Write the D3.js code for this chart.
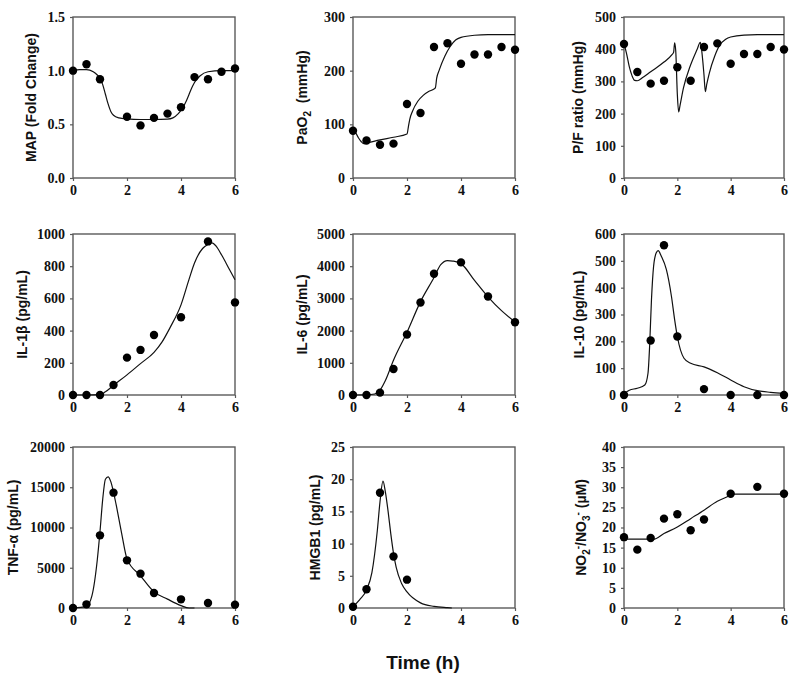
<!DOCTYPE html>
<html><head><meta charset="utf-8">
<script src="https://cdn.jsdelivr.net/npm/d3@7/dist/d3.min.js"></script>
<style>body{margin:0;background:#fff}text{white-space:pre}</style>
</head><body><svg id="c" width="800" height="688" xmlns="http://www.w3.org/2000/svg"></svg>
<script>
const xTicks = [0, 2, 4, 6];

// Panel 1: MAP
const mapObsT = [0, 0.5, 1, 2, 2.5, 3, 3.5, 4, 4.5, 5, 5.5, 6];
const mapObsV = [1.0, 1.06, 0.92, 0.57, 0.49, 0.56, 0.60, 0.66, 0.94, 0.92, 0.99, 1.02];
const mapFitT = [0, 0.25, 0.5, 0.75, 0.9, 1.0, 1.1, 1.2, 1.3, 1.4, 1.5, 1.7, 2.0, 2.5, 3.0, 3.5, 3.7, 3.9, 4.0, 4.1, 4.2, 4.3, 4.4, 4.5, 4.7, 5.0, 5.5, 6.0];
const mapFitV = [1.00, 1.01, 1.01, 0.99, 0.96, 0.93, 0.87, 0.78, 0.69, 0.62, 0.585, 0.56, 0.55, 0.545, 0.545, 0.548, 0.56, 0.60, 0.63, 0.67, 0.72, 0.78, 0.84, 0.89, 0.95, 0.99, 1.0, 1.0];
const mapTicks = [0, 0.5, 1.0, 1.5];

// Panel 2: PaO2
const paoObsT = [0, 0.5, 1, 1.5, 2, 2.5, 3, 3.5, 4, 4.5, 5, 5.5, 6];
const paoObsV = [88, 70, 62, 64, 138, 121, 244, 251, 213, 230, 230, 244, 239];
const paoFitT = [0, 0.1, 0.2, 0.3, 0.4, 0.5, 1.0, 1.5, 2.0, 2.05, 2.1, 2.2, 2.4, 2.6, 2.8, 3.0, 3.05, 3.1, 3.2, 3.4, 3.6, 3.8, 4.0, 4.5, 5.0, 6.0];
const paoFitV = [88, 84, 75, 68, 64, 65, 71, 76, 82, 95, 109, 124, 143, 154, 161, 166, 168, 186, 202, 227, 245, 257, 262, 266, 267, 267];
const paoTicks = [0, 100, 200, 300];

// Panel 3: P/F ratio
const pfObsT = [0, 0.5, 1, 1.5, 2, 2.5, 3, 3.5, 4, 4.5, 5, 5.5, 6];
const pfObsV = [416, 329, 293, 302, 344, 302, 407, 418, 355, 385, 385, 407, 399];
const pfFitT = [0, 0.1, 0.2, 0.3, 0.4, 0.5, 0.7, 1.0, 1.5, 1.8, 1.86, 1.9, 1.94, 2.0, 2.05, 2.1, 2.23, 2.48, 2.74, 2.86, 2.9, 3.0, 3.05, 3.1, 3.2, 3.4, 3.6, 3.8, 4.0, 4.5, 5.0, 6.0];
const pfFitV = [418, 385, 345, 318, 303, 302, 312, 330, 360, 383, 390, 420, 395, 260, 205, 225, 280, 347, 399, 421, 405, 320, 268, 290, 326, 378, 414, 430, 438, 444, 445, 445];
const pfTicks = [0, 100, 200, 300, 400, 500];

// Panel 4: IL-1β
const il1ObsT = [0, 0.5, 1, 1.5, 2, 2.5, 3, 4, 5, 6];
const il1ObsV = [0, 0, 0, 62, 232, 280, 373, 483, 954, 575];
const il1FitT = [0, 0.5, 1.0, 1.2, 1.5, 2.0, 2.5, 3.0, 3.3, 3.6, 4.0, 4.3, 4.5, 4.8, 5.0, 5.15, 5.3, 5.5, 5.8, 6.0];
const il1FitV = [0, 0, 2, 20, 60, 125, 195, 265, 330, 420, 560, 720, 820, 910, 935, 945, 925, 871, 778, 716];
const il1Ticks = [0, 200, 400, 600, 800, 1000];

// Panel 5: IL-6
const il6ObsT = [0, 0.5, 1, 1.5, 2, 2.5, 3, 4, 5, 6];
const il6ObsV = [0, 0, 73, 809, 1878, 2873, 3766, 4118, 3060, 2261];
const il6FitT = [0, 0.5, 0.8, 1.0, 1.2, 1.5, 2.0, 2.5, 3.0, 3.25, 3.5, 3.7, 4.0, 4.5, 5.0, 5.5, 6.0];
const il6FitV = [0, 5, 30, 150, 450, 1080, 1950, 2900, 3650, 4050, 4175, 4160, 4080, 3560, 3050, 2620, 2270];
const il6Ticks = [0, 1000, 2000, 3000, 4000, 5000];

// Panel 6: IL-10
const il10ObsT = [0, 1, 1.5, 2, 3, 4, 5, 6];
const il10ObsV = [0, 203, 558, 218, 22, 0, 0, 0];
const il10FitT = [0, 0.2, 0.5, 0.78, 0.9, 0.96, 1.03, 1.11, 1.21, 1.28, 1.4, 1.59, 1.78, 1.9, 2.0, 2.25, 2.5, 3.0, 3.5, 4.0, 4.5, 5.0, 5.5, 6.0];
const il10FitV = [5, 18, 25, 37, 81, 180, 355, 480, 530, 538, 517, 467, 367, 280, 218, 137, 118, 105, 83, 56, 31, 16, 10, 6];
const il10Ticks = [0, 100, 200, 300, 400, 500, 600];

// Panel 7: TNF-α
const tnfObsT = [0, 0.5, 1, 1.5, 2, 2.5, 3, 4, 5, 6];
const tnfObsV = [0, 455, 9027, 14327, 5921, 4265, 1863, 1077, 621, 414];
const tnfFitT = [0, 0.5, 0.7, 0.9, 1.0, 1.1, 1.2, 1.3, 1.4, 1.5, 1.6, 1.8, 2.0, 2.5, 3.0, 3.5, 4.0, 4.3, 4.5];
const tnfFitV = [0, 200, 1500, 6000, 9500, 13500, 16000, 16300, 15700, 14400, 12800, 9300, 6100, 4000, 2000, 1100, 300, 0, 0];
const tnfTicks = [0, 5000, 10000, 15000, 20000];

// Panel 8: HMGB1
const hmgObsT = [0, 0.5, 1, 1.5, 2];
const hmgObsV = [0.2, 2.9, 17.9, 8.0, 4.4];
const hmgFitT = [0, 0.25, 0.5, 0.7, 0.9, 1.0, 1.11, 1.2, 1.3, 1.4, 1.5, 1.6, 1.8, 2.0, 2.5, 3.0, 3.5, 3.66];
const hmgFitV = [0.2, 1.3, 2.8, 5.5, 12, 16.5, 19.7, 18, 15, 11.5, 8.5, 6.3, 3.8, 2.5, 0.8, 0.25, 0.05, 0];
const hmgTicks = [0, 5, 10, 15, 20, 25];

// Panel 9: NO2-/NO3-
const noObsT = [0, 0.5, 1, 1.5, 2, 2.5, 3, 4, 5, 6];
const noObsV = [17.6, 14.5, 17.4, 22.2, 23.3, 19.3, 22.0, 28.4, 30.1, 28.4];
const noFitT = [0, 1.1, 1.5, 2.0, 2.5, 3.0, 3.5, 4.0, 4.1, 6.0];
const noFitV = [17.1, 17.1, 18.5, 20.1, 22.2, 24.3, 26.5, 28.0, 28.3, 28.3];
const noTicks = [0, 5, 10, 15, 20, 25, 30, 35, 40];

const xAxisTitle = "Time (h)";

// layout
const cols = [[73, 235], [353, 515], [624, 784]];
const rows = [[17, 178], [234, 395], [447, 608]];

const panels = [
  {c:0, r:0, oT:mapObsT, oV:mapObsV, fT:mapFitT, fV:mapFitV, ticks:mapTicks, fmt:d3.format(".1f"), title:[{t:"MAP (Fold Change)"}], gap:12},
  {c:1, r:0, oT:paoObsT, oV:paoObsV, fT:paoFitT, fV:paoFitV, ticks:paoTicks, fmt:d3.format("d"), title:[{t:"PaO"},{t:"2", s:"sub"},{t:"  (mmHg)"}], gap:17},
  {c:2, r:0, oT:pfObsT, oV:pfObsV, fT:pfFitT, fV:pfFitV, ticks:pfTicks, fmt:d3.format("d"), title:[{t:"P/F ratio (mmHg)"}], gap:12},
  {c:0, r:1, oT:il1ObsT, oV:il1ObsV, fT:il1FitT, fV:il1FitV, ticks:il1Ticks, fmt:d3.format("d"), title:[{t:"IL-1β (pg/mL)"}], gap:10},
  {c:1, r:1, oT:il6ObsT, oV:il6ObsV, fT:il6FitT, fV:il6FitV, ticks:il6Ticks, fmt:d3.format("d"), title:[{t:"IL-6 (pg/mL)"}], gap:10},
  {c:2, r:1, oT:il10ObsT, oV:il10ObsV, fT:il10FitT, fV:il10FitV, ticks:il10Ticks, fmt:d3.format("d"), title:[{t:"IL-10 (pg/mL)"}], gap:11},
  {c:0, r:2, oT:tnfObsT, oV:tnfObsV, fT:tnfFitT, fV:tnfFitV, ticks:tnfTicks, fmt:d3.format("d"), title:[{t:"TNF-α (pg/mL)"}], gap:12},
  {c:1, r:2, oT:hmgObsT, oV:hmgObsV, fT:hmgFitT, fV:hmgFitV, ticks:hmgTicks, fmt:d3.format("d"), title:[{t:"HMGB1 (pg/mL)"}], gap:11},
  {c:2, r:2, oT:noObsT, oV:noObsV, fT:noFitT, fV:noFitV, ticks:noTicks, fmt:d3.format("d"), title:[{t:"NO"},{t:"2",s:"sub"},{t:"-",s:"sup"},{t:"/NO"},{t:"3",s:"sub"},{t:"-",s:"sup"},{t:" (µM)"}], gap:16}
];

const svg = d3.select("#c");
svg.append("rect").attr("width", 800).attr("height", 688).attr("fill", "#fff");

const frameColor = "#5a5a5a";
const tickFont = "'Liberation Serif','Times New Roman',serif";
const titleFont = "'Liberation Sans',Arial,sans-serif";

panels.forEach(p => {
  const [x0, x1] = cols[p.c];
  const [y0, y1] = rows[p.r];
  const x = d3.scaleLinear().domain([0, 6]).range([x0, x1]);
  const y = d3.scaleLinear().domain([0, p.ticks[p.ticks.length - 1]]).range([y1, y0]);
  const g = svg.append("g");

  // frame
  g.append("rect").attr("x", x0).attr("y", y0).attr("width", x1 - x0).attr("height", y1 - y0)
    .attr("fill", "none").attr("stroke", frameColor).attr("stroke-width", 1.4);

  const gx = g.append("g").attr("transform", `translate(0,${y1})`)
    .call(d3.axisBottom(x).tickValues(xTicks).tickSize(3).tickPadding(4).tickFormat(d3.format("d")));
  const gy = g.append("g").attr("transform", `translate(${x0},0)`)
    .call(d3.axisLeft(y).tickValues(p.ticks).tickSize(3).tickPadding(5).tickFormat(p.fmt));
  [gx, gy].forEach(a => {
    a.select(".domain").remove();
    a.selectAll(".tick line").attr("stroke", frameColor).attr("stroke-width", 1.2);
    a.selectAll(".tick text").attr("font-family", tickFont).attr("font-weight", "bold")
      .attr("font-size", 14).attr("fill", "#111");
  });

  // fit line
  const fit = p.fT.map((t, i) => [t, p.fV[i]]);
  g.append("path").datum(fit)
    .attr("d", d3.line().x(d => x(d[0])).y(d => y(d[1])).curve(d3.curveMonotoneX))
    .attr("fill", "none").attr("stroke", "#111").attr("stroke-width", 1.2);

  // observations
  const obs = p.oT.map((t, i) => [t, p.oV[i]]);
  g.selectAll("circle.obs").data(obs).enter().append("circle").attr("class", "obs")
    .attr("cx", d => x(d[0])).attr("cy", d => y(d[1])).attr("r", 4.2).attr("fill", "#000");

  // y title
  const bb = gy.node().getBBox();
  const tx = x0 + bb.x - p.gap;
  const ty = (y0 + y1) / 2;
  const tt = g.append("text")
    .attr("transform", `translate(${tx},${ty}) rotate(-90)`)
    .attr("text-anchor", "middle").attr("dy", "0.35em")
    .attr("font-family", titleFont).attr("font-weight", "bold").attr("font-size", 14).attr("fill", "#111");
  let shift = 0;
  p.title.forEach(seg => {
    const ts = tt.append("tspan").text(seg.t);
    let target = 0, fs = 14;
    if (seg.s === "sub") { target = 4; fs = 10; }
    if (seg.s === "sup") { target = -5; fs = 10; }
    ts.attr("font-size", fs).attr("dy", target - shift);
    shift = target;
  });
});

svg.append("text").attr("x", 423).attr("y", 669).attr("text-anchor", "middle")
  .attr("font-family", titleFont).attr("font-weight", "bold").attr("font-size", 19).attr("fill", "#111")
  .text(xAxisTitle);
</script></body></html>
